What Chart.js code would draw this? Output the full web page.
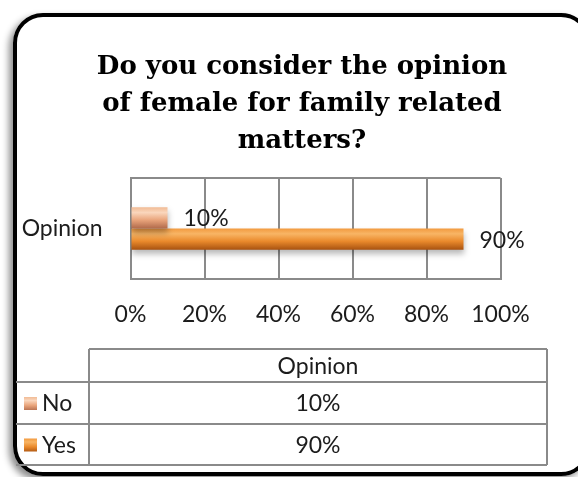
<!DOCTYPE html>
<html>
<head>
<meta charset="utf-8">
<script src="https://cdn.jsdelivr.net/npm/chart.js@4/dist/chart.umd.min.js"></script>
<style>
  html, body { margin: 0; padding: 0; background: #fff; }
  #wrap { position: relative; width: 578px; height: 477px; overflow: hidden; }
  #frame {
    position: absolute; left: 13px; top: 13px; width: 570px; height: 455px;
    border: 4px solid #000; border-radius: 30px;
    box-shadow: -4px 4px 7px rgba(0,0,0,0.45);
  }
  #chart { position: absolute; left: 0; top: 0; }
</style>
</head>
<body>
<div id="wrap">
  <div id="frame"></div>
  <canvas id="chart" width="578" height="477"></canvas>
</div>
<script>
'use strict';

// --- data ---
const TITLE_LINES = ['Do you consider the opinion', 'of female for family related', 'matters?'];
const CATEGORIES = ['Opinion'];
const SERIES_NAMES = ['No', 'Yes'];
const NO_VALUES = [10];
const YES_VALUES = [90];
const X_TICKS = [0, 20, 40, 60, 80, 100];

const FONT = 'Lato';
const FSIZE = 23;
const TEXT = '#1c1c1c';
const GRID = '#8a8a8a';

(function initOpinionChart() {
  // --- 3D-ish bar shading + shadow + value labels ---
  const barLook = {
    id: 'barLook',
    afterDatasetsUpdate(chart) {
      const ctx = chart.ctx;
      chart.data.datasets.forEach((ds, i) => {
        chart.getDatasetMeta(i).data.forEach(bar => {
          const top = bar.y - bar.height / 2;
          const g = ctx.createLinearGradient(0, top, 0, top + bar.height);
          ds.shades.forEach(([s, c]) => g.addColorStop(s, c));
          bar.options = Object.assign({}, bar.options, { backgroundColor: g });
        });
      });
    },
    beforeDatasetsDraw(chart) {
      const ctx = chart.ctx;
      ctx.save();
      ctx.shadowColor = 'rgba(0,0,0,0.28)';
      ctx.shadowBlur = 6;
      ctx.shadowOffsetY = 4;
    },
    afterDatasetsDraw(chart) {
      const ctx = chart.ctx;
      ctx.restore();
      ctx.save();
      ctx.font = FSIZE + 'px ' + FONT;
      ctx.fillStyle = TEXT;
      ctx.textAlign = 'left';
      ctx.textBaseline = 'middle';
      chart.data.datasets.forEach((ds, i) => {
        chart.getDatasetMeta(i).data.forEach((bar, j) => {
          ctx.fillText(ds.data[j] + '%', bar.x + 16, bar.y + 1);
        });
      });
      ctx.restore();
    },
  };

  // --- title (wrapped, serif bold) ---
  const titleDraw = {
    id: 'titleDraw',
    afterDraw(chart) {
      const ctx = chart.ctx;
      ctx.save();
      ctx.font = 'bold 26px "DejaVu Serif"';
      ctx.fillStyle = '#000';
      ctx.textAlign = 'center';
      ctx.textBaseline = 'alphabetic';
      TITLE_LINES.forEach((t, i) => ctx.fillText(t, 302, 74 + i * 37));
      ctx.restore();
    },
  };

  // --- data table with legend keys under the chart ---
  const dataTable = {
    id: 'dataTable',
    afterDraw(chart) {
      const ctx = chart.ctx;
      const left = 16, keyCol = 89, right = 547;
      const rows = [349, 382, 424, 465];
      ctx.save();
      ctx.strokeStyle = GRID;
      ctx.lineWidth = 2;
      ctx.beginPath();
      ctx.moveTo(keyCol, rows[0]); ctx.lineTo(right, rows[0]);
      for (let r = 1; r < rows.length; r++) { ctx.moveTo(left, rows[r]); ctx.lineTo(right, rows[r]); }
      ctx.moveTo(keyCol, rows[0]); ctx.lineTo(keyCol, rows[3]);
      ctx.moveTo(right, rows[0]); ctx.lineTo(right, rows[3]);
      ctx.stroke();

      ctx.font = FSIZE + 'px ' + FONT;
      ctx.fillStyle = TEXT;
      ctx.textBaseline = 'middle';
      ctx.textAlign = 'center';
      const midX = (keyCol + right) / 2;
      ctx.fillText(chart.data.labels[0], midX, (rows[0] + rows[1]) / 2 + 1);

      chart.data.datasets.forEach((ds, i) => {
        const cy = (rows[i + 1] + rows[i + 2]) / 2 + 1;
        ctx.textAlign = 'center';
        ctx.fillStyle = TEXT;
        ctx.fillText(ds.data[0] + '%', midX, cy);
        // legend key
        const g = ctx.createLinearGradient(0, cy - 7, 0, cy + 7);
        ds.shades.forEach(([s, c]) => g.addColorStop(s, c));
        ctx.fillStyle = g;
        ctx.fillRect(24, cy - 7, 13, 13);
        ctx.textAlign = 'left';
        ctx.fillStyle = TEXT;
        ctx.fillText(ds.label, 42, cy);
      });
      ctx.restore();
    },
  };

  const c1 = document.getElementById('chart');
  new Chart(c1.getContext('2d'), {
    type: 'bar',
    data: {
      labels: CATEGORIES,
      datasets: [
        {
          label: SERIES_NAMES[0],
          data: NO_VALUES,
          borderWidth: 0,
          shades: [[0, '#f1bb95'], [0.25, '#fad6bc'], [0.6, '#e9a47b'], [1, '#b0694a']],
        },
        {
          label: SERIES_NAMES[1],
          data: YES_VALUES,
          borderWidth: 0,
          shades: [[0, '#f29a3f'], [0.25, '#f8b565'], [0.6, '#ea8a2c'], [1, '#a85210']],
        },
      ],
    },
    options: {
      indexAxis: 'y',
      responsive: false,
      animation: false,
      categoryPercentage: 0.42,
      barPercentage: 1,
      layout: { padding: { top: 178, right: 77.5, bottom: 148, left: 0 } },
      plugins: { legend: { display: false }, title: { display: false }, tooltip: { enabled: false } },
      scales: {
        x: {
          min: 0,
          max: 100,
          afterBuildTicks: s => { s.ticks = X_TICKS.map(v => ({ value: v })); },
          afterFit: s => { s.height = 50; },
          grid: { color: GRID, lineWidth: 2, drawTicks: false },
          border: { color: GRID, width: 2 },
          ticks: { padding: 22, color: TEXT, font: { family: FONT, size: FSIZE }, callback: v => v + '%' },
        },
        y: {
          afterFit: s => { s.width = 130.5; },
          grid: { color: GRID, lineWidth: 2, drawTicks: false },
          border: { color: GRID, width: 2 },
          ticks: { padding: 28, color: TEXT, font: { family: FONT, size: FSIZE } },
        },
      },
    },
    plugins: [barLook, titleDraw, dataTable],
  });
})();
</script>
</body>
</html>
